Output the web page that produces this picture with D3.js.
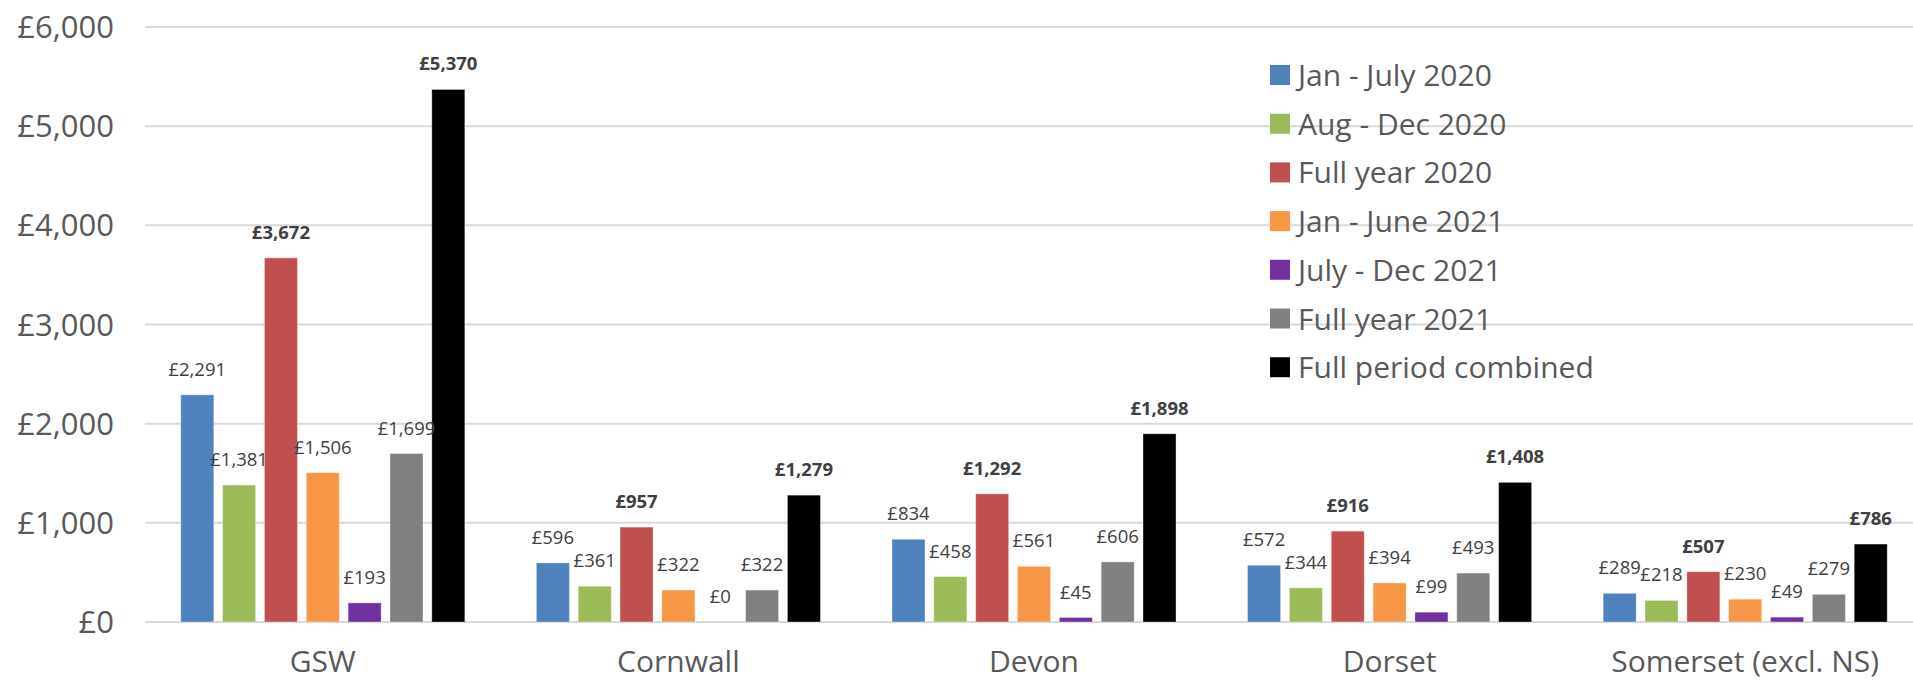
<!DOCTYPE html>
<html>
<head>
<meta charset="utf-8">
<script src="https://cdn.jsdelivr.net/npm/d3@7"></script>
<style>
  html, body { margin: 0; padding: 0; background: #fff; }
  svg { display: block; font-family: "Open Sans", "Noto Sans", sans-serif; }
</style>
</head>
<body>
<svg id="chart" width="1913" height="681"></svg>
<script>
// Regions on the x axis
const categories = ["GSW", "Cornwall", "Devon", "Dorset", "Somerset (excl. NS)"];

// Series names, in legend / bar order
const seriesNames = [
  "Jan - July 2020",
  "Aug - Dec 2020",
  "Full year 2020",
  "Jan - June 2021",
  "July - Dec 2021",
  "Full year 2021",
  "Full period combined"
];

// Values per series, one entry per region (£)
const janJul2020   = [2291, 596, 834, 572, 289];
const augDec2020   = [1381, 361, 458, 344, 218];
const fullYear2020 = [3672, 957, 1292, 916, 507];
const janJun2021   = [1506, 322, 561, 394, 230];
const julDec2021   = [193, 0, 45, 99, 49];
const fullYear2021 = [1699, 322, 606, 493, 279];
const fullPeriod   = [5370, 1279, 1898, 1408, 786];

const seriesValues = [janJul2020, augDec2020, fullYear2020, janJun2021, julDec2021, fullYear2021, fullPeriod];
const seriesColors = ["#4F81BD", "#9BBB59", "#C0504D", "#F79646", "#7030A0", "#808080", "#000000"];
// Totals are labelled in bold
const boldSeries = ["Full year 2020", "Full period combined"];

const yTicks = [0, 1000, 2000, 3000, 4000, 5000, 6000];

const svg = d3.select("#chart");
const plot = { left: 145, right: 1923, top: 27, bottom: 622 };

const x0 = d3.scaleBand().domain(categories).range([plot.left, plot.right]).padding(0);
const x1 = d3.scaleBand().domain(seriesNames).range([0, x0.bandwidth()])
  .paddingInner(0.211).paddingOuter(0.855);
const y = d3.scaleLinear().domain([0, 6000]).range([plot.bottom, plot.top]);

const money = v => "£" + d3.format(",")(v);
const textColor = "#595959";

// Horizontal gridlines
svg.append("g").selectAll("line").data(yTicks).join("line")
  .attr("x1", plot.left).attr("x2", 1913)
  .attr("y1", d => y(d)).attr("y2", d => y(d))
  .attr("stroke", "#D9D9D9").attr("stroke-width", 2);

// Y axis labels
svg.append("g").selectAll("text").data(yTicks).join("text")
  .attr("x", 114).attr("y", d => y(d) + 11)
  .attr("text-anchor", "end")
  .attr("font-size", 31).attr("fill", textColor)
  .text(d => money(d));

// Category labels
svg.append("g").selectAll("text").data(categories).join("text")
  .attr("x", d => x0(d) + x0.bandwidth() / 2).attr("y", 672)
  .attr("text-anchor", "middle")
  .attr("font-size", 30).attr("fill", textColor)
  .text(d => d);

// Bars and value labels
const rows = [];
seriesNames.forEach((s, si) => {
  categories.forEach((c, ci) => {
    rows.push({ series: s, cat: c, value: seriesValues[si][ci], color: seriesColors[si] });
  });
});

svg.append("g").selectAll("rect").data(rows).join("rect")
  .attr("x", d => x0(d.cat) + x1(d.series))
  .attr("y", d => y(d.value))
  .attr("width", x1.bandwidth())
  .attr("height", d => y(0) - y(d.value))
  .attr("fill", d => d.color)
  .attr("stroke", "#ffffff").attr("stroke-opacity", 0.35).attr("stroke-width", 1);

svg.append("g").selectAll("text").data(rows).join("text")
  .attr("x", d => x0(d.cat) + x1(d.series) + x1.bandwidth() / 2)
  .attr("y", d => y(d.value) - 19)
  .attr("text-anchor", "middle")
  .attr("font-size", 18.5)
  .attr("font-weight", d => boldSeries.includes(d.series) ? 700 : 400)
  .attr("fill", "#404040")
  .text(d => money(d.value));

// Legend
const legend = svg.append("g").selectAll("g").data(seriesNames).join("g")
  .attr("transform", (d, i) => `translate(1270, ${75 + i * 48.7})`);
legend.append("rect")
  .attr("x", 0).attr("y", -10).attr("width", 20).attr("height", 20)
  .attr("fill", (d, i) => seriesColors[i]);
legend.append("text")
  .attr("x", 28).attr("y", 11)
  .attr("font-size", 30).attr("fill", textColor)
  .text(d => d);
</script>
</body>
</html>
